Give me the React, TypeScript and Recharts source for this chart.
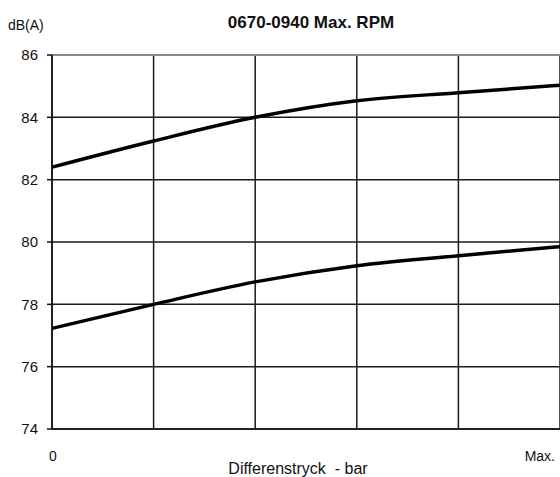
import { LineChart, Line, XAxis, YAxis, CartesianGrid, ReferenceLine } from 'recharts'

const positions = [0, 1, 2, 3, 4, 5]
const upperCurve = [82.4, 83.24, 84.0, 84.53, 84.79, 85.03]
const lowerCurve = [77.23, 78.0, 78.72, 79.24, 79.56, 79.85]
const yTicks = [74, 76, 78, 80, 82, 84, 86]
const xTickLabels: Record<number, string> = { 0: '0', 5: 'Max.' }

const FONT = '"Liberation Sans", Arial, sans-serif'

const data = positions.map((x, i) => ({ x, upper: upperCurve[i], lower: lowerCurve[i] }))

function XTick(props: any) {
  const { x, y, payload } = props
  const label = xTickLabels[payload.value]
  if (!label) return null
  const last = payload.value === 5
  return (
    <text
      x={last ? x - 1 : x + 1}
      y={y + 24}
      textAnchor={last ? 'end' : 'middle'}
      fontSize={14}
      fontFamily={FONT}
      fill="#111"
    >
      {label}
    </text>
  )
}

export default function App() {
  return (
    <div style={{ position: 'absolute', left: 0, top: 0, width: 560, height: 477, background: '#fff', fontFamily: FONT }}>
      <div style={{ position: 'absolute', left: 8, top: 17, fontSize: 14, lineHeight: '16px', color: '#111' }}>dB(A)</div>
      <div
        style={{
          position: 'absolute',
          left: 311,
          top: 13,
          transform: 'translateX(-50%)',
          fontSize: 17,
          lineHeight: '20px',
          fontWeight: 'bold',
          whiteSpace: 'nowrap',
          color: '#111',
        }}
      >
        0670-0940 Max. RPM
      </div>
      <LineChart width={560} height={477} data={data} margin={{ top: 55, right: 0, bottom: 0, left: 0 }}>
        <CartesianGrid stroke="#1a1a1a" strokeWidth={1.5} />
        <XAxis
          dataKey="x"
          type="number"
          domain={[0, 5]}
          ticks={positions}
          tick={<XTick />}
          tickLine={false}
          axisLine={{ stroke: '#111', strokeWidth: 1.5 }}
          height={48}
          label={{
            value: 'Differenstryck\u00a0 - bar',
            position: 'insideBottom',
            offset: 3,
            dx: -8,
            fontSize: 16,
            fontFamily: FONT,
            fill: '#111',
          }}
        />
        <YAxis
          type="number"
          domain={[74, 86]}
          ticks={yTicks}
          width={52}
          tickSize={5}
          tickMargin={9}
          tick={{ fontSize: 15, fontFamily: FONT, fill: '#111' }}
          tickLine={{ stroke: '#111', strokeWidth: 1.5 }}
          axisLine={{ stroke: '#111', strokeWidth: 1.5 }}
        />
        <ReferenceLine y={86} stroke="#8a8a8a" strokeWidth={2} />
        <Line type="monotone" dataKey="upper" stroke="#000" strokeWidth={3.5} dot={false} isAnimationActive={false} />
        <Line type="monotone" dataKey="lower" stroke="#000" strokeWidth={3.5} dot={false} isAnimationActive={false} />
      </LineChart>
    </div>
  )
}
